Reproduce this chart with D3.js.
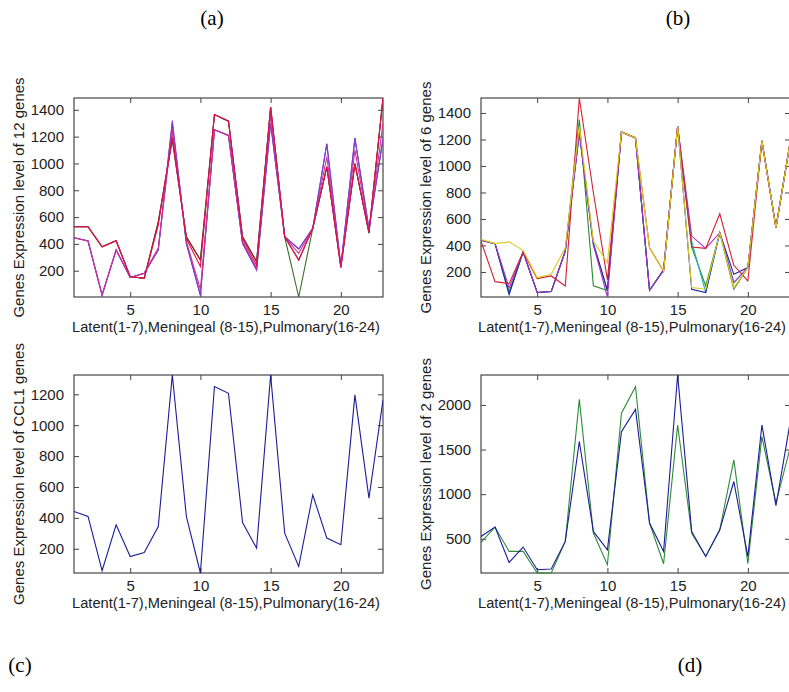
<!DOCTYPE html>
<html><head><meta charset="utf-8">
<script src="https://cdn.jsdelivr.net/npm/d3@7"></script>
<style>body{margin:0;background:#fff;} svg{display:block;}</style>
</head><body>
<svg id="chart" width="789" height="692"></svg>
<script>
// ---- data ----
const samples = d3.range(1, 24); // 1..23
const xTicks = [5, 10, 15, 20];
const xLabel = "Latent(1-7),Meningeal (8-15),Pulmonary(16-24)";

// panel (a): 12 genes
const aYTicks = [200, 400, 600, 800, 1000, 1200, 1400];
const aGreen   = [528,528,379,424,156,143,565,1180,453,280,1365,1315,453,268,1420,453,4,516,974,231,999,480,1488];
const aBrown   = [528,528,379,424,156,143,565,1180,453,280,1365,1315,453,268,1420,453,280,516,974,231,999,480,1488];
const aBlue    = [446,421,15,355,150,181,355,1300,404,15,1251,1209,404,206,1300,453,362,516,1147,231,1189,510,1184];
const aPurple  = [446,421,20,355,150,181,355,1320,404,20,1251,1209,404,206,1300,453,362,516,1147,231,1189,510,1184];
const aMagenta = [446,421,20,355,150,181,370,1250,420,60,1251,1209,420,220,1360,453,330,516,1050,231,1100,500,1300];
const aRed     = [528,528,379,424,156,143,540,1200,440,231,1365,1315,440,240,1420,453,280,516,974,220,999,490,1488];

// panel (b): 6 genes
const bYTicks = [200, 400, 600, 800, 1000, 1200, 1400];
const bGreen   = [440,414,50,351,45,52,357,1350,95,60,1257,1212,62,220,1300,388,95,496,70,233,1190,534,1170];
const bCyan    = [440,414,30,351,45,52,357,1250,400,60,1257,1212,62,213,1300,430,45,496,120,233,1190,534,1170];
const bBlue    = [440,414,32,351,45,52,357,1250,420,60,1257,1212,62,213,1300,70,45,496,182,233,1190,534,1170];
const bMagenta = [440,414,80,351,45,52,357,1250,407,11,1257,1212,62,213,1300,471,378,496,120,233,1190,534,1170];
const bRed     = [433,127,112,351,150,170,95,1513,800,140,1257,1212,383,205,1300,388,378,639,250,132,1190,534,1170];
const bYellow  = [446,414,427,363,157,182,383,1300,433,270,1257,1212,383,205,1300,82,70,496,82,233,1190,534,1170];

// panel (c): CCL1
const cYTicks = [200, 400, 600, 800, 1000, 1200];
const cBlue = [441,409,58,355,150,176,344,1325,409,43,1250,1206,370,204,1325,301,86,549,269,226,1196,528,1163];

// panel (d): 2 genes
const dYTicks = [500, 1000, 1500, 2000];
const dGreen = [460,631,358,358,116,116,470,2063,564,209,1907,2205,676,220,1776,560,302,600,1384,220,1646,899,1515];
const dBlue  = [526,631,235,407,153,161,470,1590,582,377,1701,1951,676,358,2336,582,302,600,1142,300,1776,870,1795];

const panels = [
  {box:{l:74,t:98,r:383,b:297}, yTicks:aYTicks, ylab:"Genes Expression level of 12 genes", labX:20,
   series:[[aGreen,"#3d6b2a"],[aBrown,"#8e2323"],[aBlue,"#3a3ac8"],[aPurple,"#8a3cc8"],[aMagenta,"#d0309a"],[aRed,"#e0104e"]]},
  {box:{l:481,t:98,r:790,b:297}, yTicks:bYTicks, ylab:"Genes Expression level of 6 genes", labX:427,
   series:[[bGreen,"#2a8a2a"],[bCyan,"#20b0b8"],[bBlue,"#2020a0"],[bMagenta,"#b030c0"],[bRed,"#d42030"],[bYellow,"#d8cc20"]]},
  {box:{l:74,t:375,r:383,b:573}, yTicks:cYTicks, ylab:"Genes Expression level of CCL1 genes", labX:20,
   series:[[cBlue,"#1c1c98"]]},
  {box:{l:481,t:375,r:790,b:573}, yTicks:dYTicks, ylab:"Genes Expression level of 2 genes", labX:427,
   series:[[dGreen,"#2e8b3a"],[dBlue,"#1c1c98"]]}
];

const svg = d3.select("#chart");
const font = "'Liberation Sans', Arial, Helvetica, sans-serif";
const fs = 15;

panels.forEach((p, i) => {
  const {l,t,r,b} = p.box;
  const all = p.series.flatMap(s => s[0]);
  const x = d3.scaleLinear().domain([1, 23]).range([l, r]);
  const y = d3.scaleLinear().domain(d3.extent(all)).range([b, t]);
  const g = svg.append("g");
  const clipId = "clip" + i;
  g.append("clipPath").attr("id", clipId).append("rect")
    .attr("x", l).attr("y", t - 1).attr("width", r - l).attr("height", b - t + 2);

  // frame
  g.append("rect").attr("x", l).attr("y", t).attr("width", r - l).attr("height", b - t)
    .attr("fill", "none").attr("stroke", "#222").attr("stroke-width", 1);

  // axes via d3 (inward ticks)
  const bottom = g.append("g").attr("transform", `translate(0,${b})`)
    .call(d3.axisBottom(x).tickValues(xTicks).tickSizeInner(-5).tickSizeOuter(0).tickPadding(7));
  const top = g.append("g").attr("transform", `translate(0,${t})`)
    .call(d3.axisTop(x).tickValues(xTicks).tickSizeInner(-5).tickSizeOuter(0).tickFormat(""));
  const left = g.append("g").attr("transform", `translate(${l},0)`)
    .call(d3.axisLeft(y).tickValues(p.yTicks).tickSizeInner(-5).tickSizeOuter(0).tickPadding(10).tickFormat(d3.format("d")));
  const right = g.append("g").attr("transform", `translate(${r},0)`)
    .call(d3.axisRight(y).tickValues(p.yTicks).tickSizeInner(-5).tickSizeOuter(0).tickFormat(""));
  [bottom, top, left, right].forEach(a => {
    a.select(".domain").remove();
    a.selectAll(".tick line").attr("stroke", "#444");
    a.selectAll("text").attr("font-family", font).attr("font-size", fs).attr("fill", "#222");
  });

  // lines
  const line = d3.line().x((d, k) => x(samples[k])).y(d => y(d));
  p.series.forEach(([vals, col]) => {
    g.append("path").datum(vals).attr("d", line)
      .attr("fill", "none").attr("stroke", col).attr("stroke-width", 1.1)
      .attr("clip-path", `url(#${clipId})`);
  });

  // labels
  g.append("text").attr("x", i % 2 ? 478 : 72).attr("y", b + 35)
    .attr("text-anchor", "start").attr("font-family", font).attr("font-size", 14).attr("fill", "#222")
    .attr("textLength", 308).attr("lengthAdjust", "spacingAndGlyphs")
    .text(xLabel);
  g.append("text").attr("transform", `translate(${p.labX},${(t + b) / 2}) rotate(-90)`)
    .attr("text-anchor", "middle").attr("dominant-baseline", "middle")
    .attr("font-family", font).attr("font-size", fs).attr("fill", "#222")
    .text(p.ylab);
});

// panel letters
const letters = [["(a)", 212, 25], ["(b)", 678, 25], ["(c)", 20, 672], ["(d)", 690, 672]];
svg.selectAll("text.letter").data(letters).enter().append("text")
  .attr("class", "letter").attr("x", d => d[1]).attr("y", d => d[2])
  .attr("text-anchor", "middle").attr("font-family", "'Liberation Serif', 'Times New Roman', serif")
  .attr("font-size", 21).attr("fill", "#000").text(d => d[0]);
</script>
</body></html>
